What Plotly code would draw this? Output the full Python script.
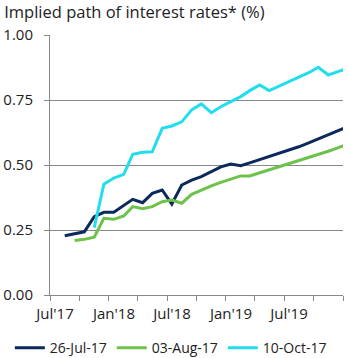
import plotly.graph_objects as go
import pandas as pd

months = pd.date_range("2017-07-16", periods=30, freq="MS") + pd.Timedelta(days=15)
months = [d.strftime("%Y-%m-%d") for d in months]

navy_values = [0.228, 0.236, 0.243, 0.301, 0.318, 0.318, 0.346, 0.368, 0.355, 0.391,
               0.404, 0.350, 0.423, 0.442, 0.455, 0.474, 0.493, 0.504, 0.497, 0.508,
               0.520, 0.532, 0.545, 0.557, 0.570, 0.585, 0.600, 0.615, 0.632, 0.648]
green_values = [0.210, 0.214, 0.222, 0.295, 0.291, 0.304, 0.340, 0.332, 0.340, 0.359,
                0.365, 0.353, 0.387, 0.404, 0.420, 0.433, 0.445, 0.458, 0.458, 0.470,
                0.482, 0.493, 0.505, 0.515, 0.527, 0.540, 0.553, 0.566, 0.580]
cyan_values = [0.259, 0.426, 0.450, 0.464, 0.541, 0.549, 0.551, 0.641, 0.650, 0.666,
               0.712, 0.735, 0.701, 0.724, 0.744, 0.763, 0.786, 0.808, 0.786, 0.804,
               0.820, 0.837, 0.855, 0.876, 0.846, 0.859, 0.872]

series_names = ["26-Jul-17", "03-Aug-17", "10-Oct-17"]
colors = ["#0B2A5B", "#6CC24A", "#22DDEE"]

tick_vals = ["2017-07-01", "2017-10-01", "2018-01-01", "2018-04-01", "2018-07-01",
             "2018-10-01", "2019-01-01", "2019-04-01", "2019-07-01", "2019-10-01",
             "2020-01-01"]
tick_text = ["Jul'17", "", "Jan'18", "", "Jul'18", "", "Jan'19", "", "Jul'19", "", ""]
y_ticks = [0, 0.25, 0.5, 0.75, 1.0]

fig = go.Figure()
fig.add_trace(go.Scatter(x=months, y=navy_values, name=series_names[0], mode="lines",
                         line=dict(color=colors[0], width=3)))
fig.add_trace(go.Scatter(x=months[1:], y=green_values, name=series_names[1], mode="lines",
                         line=dict(color=colors[1], width=3)))
fig.add_trace(go.Scatter(x=months[3:], y=cyan_values, name=series_names[2], mode="lines",
                         line=dict(color=colors[2], width=3)))

font_family = "Open Sans"
fig.update_layout(
    width=348, height=358,
    margin=dict(l=50, r=5, t=35, b=63, autoexpand=False),
    paper_bgcolor="white", plot_bgcolor="white",
    font=dict(family=font_family, size=15, color="#222222"),
    title=dict(text="Implied path of interest rates* (%)", x=0.012, xanchor="left",
               y=0.965, yanchor="middle", font=dict(size=16.5, color="#222222")),
    showlegend=True,
    legend=dict(orientation="h", x=-0.137, xanchor="left",
                y=-0.204, yanchor="middle",
                font=dict(size=14), itemwidth=30, tracegroupgap=0,
                bgcolor="rgba(0,0,0,0)"),
    xaxis=dict(type="date", range=["2017-07-01", "2020-01-01"],
               tickmode="array", tickvals=tick_vals, ticktext=tick_text,
               ticks="outside", ticklen=5, tickcolor="#888888", tickwidth=1,
               showgrid=False, showline=True, linecolor="#888888", linewidth=1,
               tickfont=dict(size=15), ticklabelshift=5,
               fixedrange=True),
    yaxis=dict(range=[0, 1.0], tickvals=y_ticks, tickformat=".2f",
               showgrid=True, gridcolor="#888888", gridwidth=1,
               showline=True, linecolor="#888888", linewidth=1,
               ticks="outside", ticklen=5, tickcolor="#888888",
               ticklabelstandoff=8,
               zeroline=False, tickfont=dict(size=15)),
)

fig.write_html("out.html")
